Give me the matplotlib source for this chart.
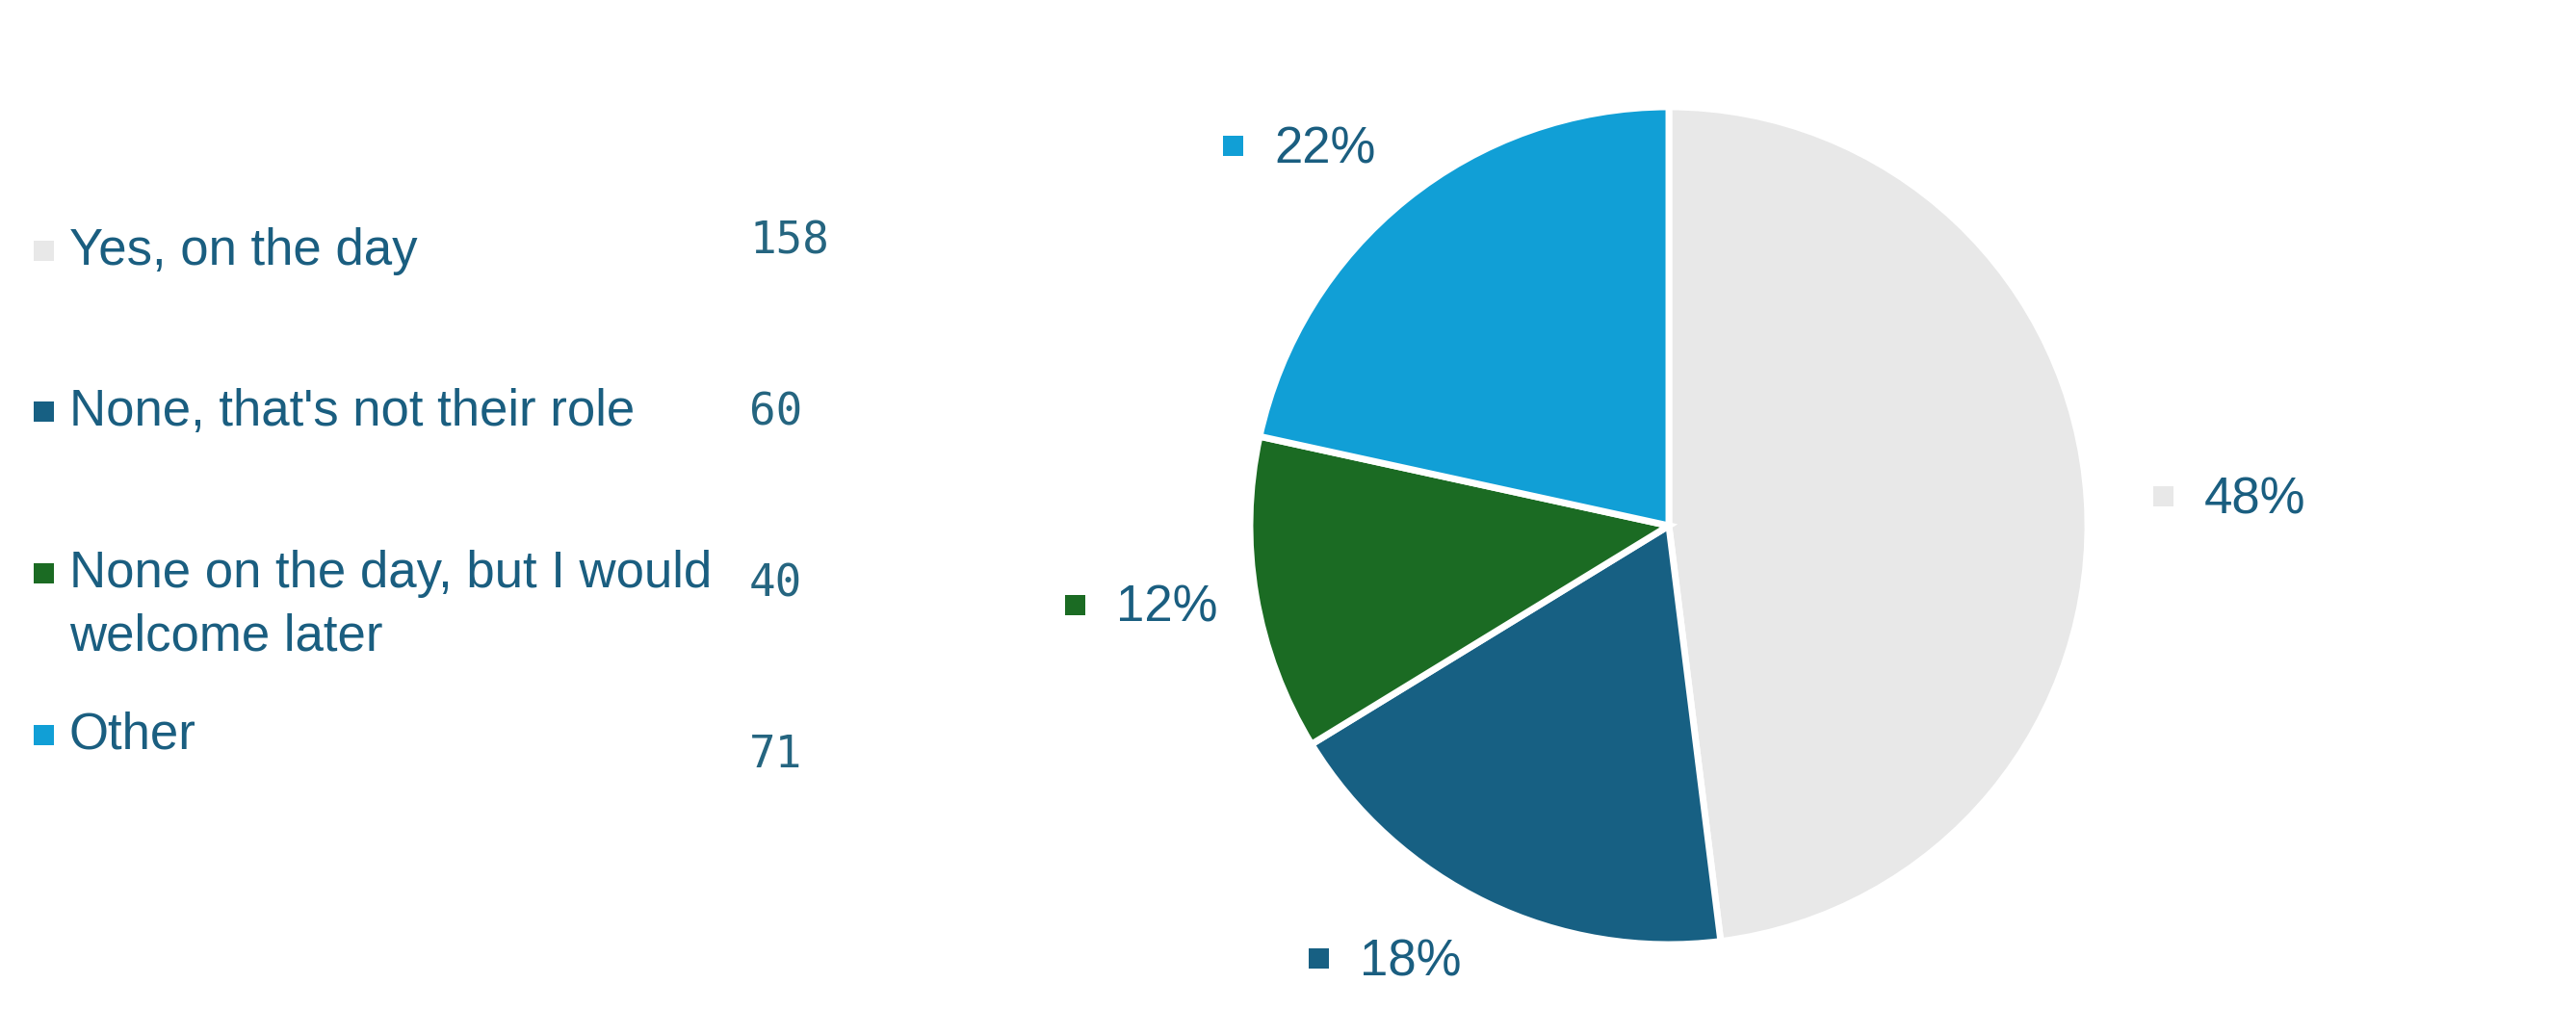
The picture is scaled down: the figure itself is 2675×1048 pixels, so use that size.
import matplotlib.pyplot as plt

# Data
categories = ["Yes, on the day", "None, that's not their role",
              "None on the day, but I would\nwelcome later", "Other"]
counts = [158, 60, 40, 71]
colors = ["#E8E8E8", "#176083", "#1B6B23", "#119FD6"]

W, H = 2675, 1048
text_color = "#1A5E80"

fig = plt.figure(figsize=(W / 100, H / 100), dpi=100)
ax = fig.add_axes([0, 0, 1, 1])

def py(y):
    # pixel row (from top) -> data y
    return H - y

# Pie
cx, cy, r = 1733, 546, 435
wedges, _ = ax.pie(counts, colors=colors, startangle=90, counterclock=False,
                   center=(cx, py(cy)), radius=r,
                   wedgeprops=dict(edgecolor="white", linewidth=5))

ax.set_xlim(0, W)
ax.set_ylim(0, H)
ax.set_aspect("equal")
ax.axis("off")

# Percentage labels (square marker + text)
total = sum(counts)
label_pos = [(2246, 515), (1369, 995), (1116, 628), (1280, 151)]
for (lx, ly), c, col in zip(label_pos, counts, colors):
    ax.scatter([lx], [py(ly)], marker="s", s=(21 * 0.72) ** 2, color=col,
               linewidths=0)
    ax.text(lx + 43, py(ly + 18), f"{c / total:.0%}", fontsize=38,
            family="Liberation Sans", color=text_color, va="baseline", ha="left")

# Legend with counts
row_y = [260, 427, 595, 763]
num_base = [263, 441, 620, 797]
line_gap = 65
for cat, c, col, y, nb in zip(categories, counts, colors, row_y, num_base):
    ax.scatter([44.5], [py(y)], marker="s", s=(21 * 0.72) ** 2, color=col,
               linewidths=0)
    for i, line in enumerate(cat.split("\n")):
        ax.text(72, py(y + 15 + i * line_gap), line, fontsize=38,
                family="Liberation Sans", color=text_color,
                va="baseline", ha="left")
    ax.text(778, py(nb), str(c), fontsize=33, family="DejaVu Sans Mono",
            color="#256580", va="baseline", ha="left")

fig.savefig("out.png", dpi=100, facecolor="white")
